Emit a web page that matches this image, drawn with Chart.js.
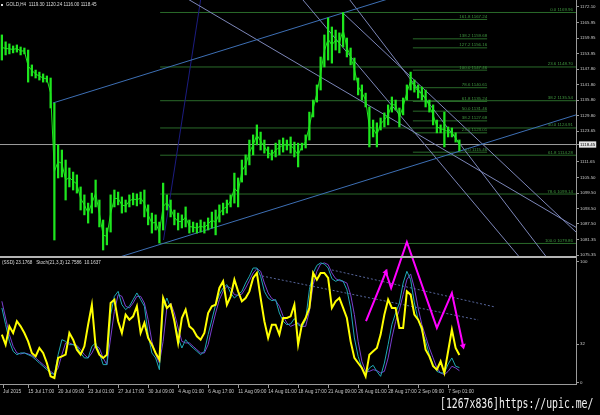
<!DOCTYPE html>
<html><head><meta charset="utf-8">
<script src="https://cdn.jsdelivr.net/npm/chart.js@4/dist/chart.umd.min.js"></script>
<style>
html,body{margin:0;padding:0;background:#000;overflow:hidden}
#wrap{position:relative;width:600px;height:415px;background:#000}
canvas{position:absolute;left:0;top:0}
#wm{position:absolute;left:440px;top:396px;font:14px 'DejaVu Sans Mono','Liberation Mono',monospace;color:#f0f0f0;white-space:nowrap;transform-origin:0 0;transform:scaleX(0.70);line-height:1}
</style></head><body>
<div id="wrap"><canvas id="c" width="600" height="415"></canvas><div id="wm">[1267x836]https://upic.me/</div></div>
<script>
// ---------- DATA ----------
const symbolTitle = 'GOLD,H4  1119.30 1120.24 1116.00 1118.45';
const stochTitle = '(SSD) 23.1768   Stoch(21,3,3) 12.7586  10.1637';
const lastClose = 1118.45;

const priceHigh = [1161.2,1158.5,1157.7,1156.9,1157.3,1156.5,1156.1,1155.3,1149.5,1147.5,
1146.7,1146.0,1145.2,1144.4,1134.6,1118.3,1116.3,1112.4,1109.3,1107.7,
1106.6,1101.9,1098.8,1095.6,1099.5,1104.6,1096.8,1089.0,1085.9,1098.8,
1100.7,1099.9,1098.0,1096.8,1098.8,1099.5,1099.2,1099.9,1100.7,1094.9,
1091.7,1091.0,1088.2,1103.4,1098.8,1096.8,1092.9,1091.7,1091.0,1094.1,
1089.0,1088.2,1087.8,1089.0,1088.2,1089.8,1092.1,1092.9,1094.9,1095.6,
1096.8,1098.8,1107.3,1105.4,1112.4,1114.4,1120.2,1122.2,1126.1,1123.3,
1120.2,1117.5,1116.3,1119.0,1120.2,1121.0,1120.2,1121.4,1119.4,1119.0,
1119.0,1122.2,1131.1,1135.8,1141.7,1152.6,1161.2,1167.8,1164.3,1163.1,
1162.0,1169.96,1160.0,1156.1,1152.2,1144.4,1141.7,1138.5,1133.1,1128.0,
1126.9,1128.8,1130.8,1133.9,1137.0,1135.8,1132.7,1136.6,1141.7,1146.7,
1143.6,1141.7,1140.9,1139.7,1135.8,1133.9,1128.0,1126.1,1131.1,1125.3,
1124.9,1123.0,1120.24];
const priceLow = [1151.4,1153.4,1153.8,1154.2,1154.5,1153.4,1153.8,1142.8,1145.2,1144.4,
1143.6,1142.8,1142.8,1132.7,1081.2,1105.4,1105.8,1096.8,1101.9,1100.7,
1099.5,1092.9,1091.0,1087.8,1091.7,1094.1,1086.3,1077.3,1079.3,1084.3,
1094.1,1094.9,1091.7,1092.1,1094.1,1094.9,1094.5,1095.3,1090.2,1087.1,
1083.9,1085.1,1080.0,1085.1,1092.9,1090.2,1087.1,1085.1,1085.9,1086.3,
1083.9,1084.3,1083.9,1084.3,1083.9,1085.1,1085.9,1083.2,1088.2,1091.0,
1091.7,1094.1,1095.6,1094.1,1103.8,1106.6,1110.5,1114.4,1118.3,1116.3,
1115.1,1113.2,1112.4,1113.6,1114.4,1115.5,1116.3,1115.1,1113.6,1109.7,
1116.3,1117.1,1120.2,1129.2,1135.0,1139.7,1148.7,1151.4,1150.2,1155.3,
1154.2,1156.5,1152.6,1149.5,1143.6,1137.8,1135.8,1133.1,1117.5,1121.4,
1117.5,1124.1,1125.3,1126.1,1131.1,1131.9,1125.3,1130.0,1135.8,1139.7,
1138.9,1136.6,1135.8,1133.1,1131.1,1126.1,1123.0,1123.0,1117.5,1121.4,
1121.4,1119.4,1116.00];

const stochYellow = [40,31.7,46.8,41.3,51,46.8,41.3,34.4,24.8,22,
28.9,24.8,16.5,5.5,4.1,20.7,22,23.4,41.3,35.8,
27.5,23.4,30.3,48.2,64.7,30.3,23.4,20.7,23.4,66.1,
68.9,51,41.3,56.5,52.3,55.1,63.4,41.3,49.6,37.2,
31.7,24.8,19.3,70.2,62,64.7,51,33.1,53.7,60.6,
46.8,44.1,38.6,35.8,41.3,57.8,63.4,64.7,78.5,84,
64.7,71.6,85.4,75.7,67.5,70.2,75.7,86.8,90.9,70.2,
51,37.2,48.2,48.2,40,53.7,53.7,55.1,64.7,31.7,
48.2,53.7,62,90.9,85.4,90.9,90.9,86.8,62,67.5,
70.2,62,53.7,34.4,20.7,16.5,12.4,5.5,23.4,26.2,
28.9,40,56.5,68.9,62,62,45.4,45.4,75.7,73,
56.5,52.3,45.4,27.5,22,13.8,11,17.9,8.3,26.2,
44.1,28.9,23.18];
const stochMain = [62,48.2,34.4,26.2,23.4,24.8,24.8,23.4,22,19.3,
16.5,13.8,11,8.3,6.9,23.4,35.8,34.4,31.7,31.7,
30.3,24.8,20.7,20.7,30.3,33.1,24.8,15.2,15.2,56.5,
71.6,75.7,64.7,60.6,63.4,68.9,74.4,68.9,63.4,40,
24.8,20.7,11,62,70.2,62,52.3,37.2,28.9,35.8,
31.7,28.9,26.2,23.4,26.2,40,52.3,64.7,73,78.5,
81.3,74.4,70.2,73,75.7,82.6,88.2,95,95,88.2,
75.7,70.2,68,68.9,57.8,51,48.2,48.8,53.2,48.2,
46,52.3,77.1,90.9,97.2,99.2,98.3,95,86.2,84,
85.4,84,77.1,62,37.2,22,12.4,6.9,12.4,14.6,
9.6,5.5,16.5,31.7,48.2,57.8,66.1,82.6,92.3,85.4,
66.1,52.3,42.7,34.4,23.4,15.2,9.6,8.3,8.3,15.7,
20.7,13.8,12.76];
const stochSignal = [67.5,53.7,40,30.3,24.8,24,24.8,24,22.9,20.7,
17.9,15.2,12.4,9.6,7.4,12.4,23.4,33.1,33.1,31.7,
31.1,27.5,23.4,20.7,24.8,31.1,28.9,20.7,15.2,37.2,
59.2,73,71.6,63.4,62,66.1,71.6,71.6,66.1,52.3,
34.4,23.4,16.5,34.4,62,66.1,57.8,45.4,34.4,33.1,
33.1,30.3,27.5,24.8,24.8,31.7,45.4,57.8,68.9,75.7,
79.9,78.5,73,72.4,73.5,78.5,84.6,90.9,94.5,92.3,
82.6,74.4,69.7,68,63.4,55.1,49.6,46.8,48.2,49.6,
46.8,46.8,59.2,81.3,92.3,98.3,99.2,97.8,90.9,86.2,
84.6,84,82.6,73,56.5,34.4,17.9,9.6,9.6,11,
10.2,8.3,9.6,20.7,37.2,50.9,60.6,73,85.4,90.1,
78.5,62,48.2,38.6,28.9,20.7,12.4,8.3,6.9,9.6,
13.8,12.4,10.16];

const timeLabels = ['Jul 2015','15 Jul 17:00','20 Jul 09:00','23 Jul 01:00','27 Jul 17:00','30 Jul 09:00','4 Aug 01:00','6 Aug 17:00','11 Aug 09:00','14 Aug 01:00','18 Aug 17:00','21 Aug 09:00','26 Aug 01:00','28 Aug 17:00','2 Sep 09:00','7 Sep 01:00'];
const timeTickPos = [0.3,7,15,23,31,39,47,55,63,71,79,87,95,103,111,119];
const priceTicks = [1172.10,1165.95,1159.95,1153.95,1147.80,1141.80,1135.80,1129.80,1123.65,1118.45,1111.65,1105.50,1099.50,1093.50,1087.50,1081.35,1075.35];
const stochTicks = [100,32,0];

// Fibonacci retracement objects
const fibALevels = [0,23.6,38.2,50,61.8,78.6,100];
const fibAPrices = [1169.96,1148.70,1135.54,1124.91,1114.28,1099.14,1079.86];
const fibAStart = 42.2;
const fibBLevels = [0,23.6,38.2,50,61.8,78.6,100,127.2,138.2,161.8];
const fibBPrices = [1115.46,1123.01,1127.68,1131.46,1135.24,1140.61,1147.46,1156.16,1159.68,1167.24];
const fibBStart = 109.6, fibBEnd = 129.4;

// trend lines (bar index, price)
const trendStartX = [13.6, 26.2, 47.5, 90.97, 80.3, 92.8, 43.1];
const trendStartP = [1134.65, 1072.2, 1177.0, 1169.76, 1174.83, 1174.83, 1081.2];
const trendEndX   = [106.2, 153.1, 153.4, 153.4, 138.2, 145.4, 53.4];
const trendEndP   = [1176.7, 1130.0, 1085.9, 1083.9, 1074.2, 1074.2, 1178.7];

// dotted lines in the oscillator window (bar index, value)
const dotStartX = [88.0, 69.4];
const dotStartV = [93.4, 88.4];
const dotEndX = [131.5, 127.0];
const dotEndV = [62.8, 52.1];

// hand-drawn magenta path in the oscillator window
const magentaX = [97.1, 102.4, 103.8, 108.0, 116.0, 120.0, 123.0];
const magentaV = [51.2, 91.7, 78.5, 116.5, 45.5, 74.4, 30.6];

// ---------- CHART ----------
const xMin = -0.5, xMax = 153.1;
const FONT = 'Liberation Sans';
Chart.defaults.font.family = FONT;

function seg(x1, y1, x2, y2, color, w, axis, order, dash) {
  return {type:'line', xAxisID:'x', yAxisID:axis, data:[{x:x1,y:y1},{x:x2,y:y2}],
    borderColor:color, borderWidth:w, pointRadius:0, borderDash:dash||[], order:order, tension:0, fill:false};
}

const barGreen = '#1ee61e';
const datasets = [];
datasets.push({type:'bar', xAxisID:'x', yAxisID:'yP',
  data: priceHigh.map((h,i)=>({x:i, y:[priceLow[i], h]})),
  backgroundColor:barGreen, borderWidth:0, barThickness:1.6, grouped:false, order:1});
// thin path joining the middle of each bar's range
datasets.push({type:'line', xAxisID:'x', yAxisID:'yP',
  data: priceHigh.map((h,i)=>({x:i, y:(h + priceLow[i]) / 2})),
  borderColor:barGreen, borderWidth:1, pointRadius:0, tension:0, order:1});

fibAPrices.forEach(p => datasets.push(seg(fibAStart, p, xMax, p, '#2a6a2a', 1, 'yP', 6)));
fibBPrices.forEach(p => datasets.push(seg(fibBStart, p, fibBEnd, p, '#2a6a2a', 1, 'yP', 6)));
datasets.push(seg(xMin, lastClose, xMax, lastClose, '#9c9c9c', 1, 'yP', 5));

const trendColors = ['#3d6fb4','#3d6fb4','#7c86b8','#7c86b8','#7c86b8','#7c86b8','#1c1c80'];
trendStartX.forEach((x,i) => datasets.push(seg(x, trendStartP[i], trendEndX[i], trendEndP[i], trendColors[i], 1, 'yP', 4)));

datasets.push({type:'line', xAxisID:'x', yAxisID:'yS', data: stochSignal.map((v,i)=>({x:i,y:v})),
  borderColor:'#7b40d0', borderWidth:1, pointRadius:0, tension:0, order:3});
datasets.push({type:'line', xAxisID:'x', yAxisID:'yS', data: stochMain.map((v,i)=>({x:i,y:v})),
  borderColor:'#1fa8b4', borderWidth:1, pointRadius:0, tension:0, order:2});
dotStartX.forEach((x,i) => datasets.push(seg(x, dotStartV[i], dotEndX[i], dotEndV[i], '#56659a', 1, 'yS', 4, [2,2])));
datasets.push({type:'line', xAxisID:'x', yAxisID:'yS', data: stochYellow.map((v,i)=>({x:i,y:v})),
  borderColor:'#ffff00', borderWidth:2, pointRadius:0, tension:0, order:1});
const arrowIdx = [1, 6];
const arrowRot = [23, 168];
datasets.push({type:'line', xAxisID:'x', yAxisID:'yS', data: magentaX.map((x,i)=>({x:x, y:magentaV[i]})),
  borderColor:'#ff00ff', backgroundColor:'#ff00ff', borderWidth:2, tension:0, clip:false, order:0,
  pointStyle:'triangle',
  pointRadius: c => arrowIdx.includes(c.dataIndex) ? 3.5 : 0,
  pointBorderWidth: 0,
  pointRotation: c => { const k = arrowIdx.indexOf(c.dataIndex); return k >= 0 ? arrowRot[k] : 0; }});

const levelText = v => (Number.isInteger(v) ? v.toFixed(1) : String(v));

const overlay = {
  id:'overlay',
  afterDatasetsDraw(chart) {
    const {ctx, scales:{x, yP}} = chart;
    ctx.save();
    ctx.font = '4.4px "' + FONT + '"';
    ctx.fillStyle = '#3f963f';
    ctx.textAlign = 'right';
    ctx.textBaseline = 'bottom';
    fibALevels.forEach((lv,i) => ctx.fillText(levelText(lv) + ' ' + fibAPrices[i].toFixed(2), x.getPixelForValue(xMax) - 3, yP.getPixelForValue(fibAPrices[i]) - 0.5));
    fibBLevels.forEach((lv,i) => ctx.fillText(levelText(lv) + ' ' + fibBPrices[i].toFixed(2), x.getPixelForValue(fibBEnd), yP.getPixelForValue(fibBPrices[i]) - 0.5));
    ctx.restore();
  },
  afterDraw(chart) {
    const {ctx, scales:{yS}, chartArea} = chart;
    ctx.save();
    ctx.fillStyle = '#b4b4b4';
    ctx.fillRect(0, yS.top - 1, chartArea.right, 2);
    ctx.font = '4.6px "' + FONT + '"';
    ctx.fillStyle = '#dcdcdc';
    ctx.textAlign = 'left';
    ctx.textBaseline = 'middle';
    ctx.fillRect(1, 4, 2, 2);
    ctx.fillText(symbolTitle, 6, 5);
    ctx.fillText(stochTitle, 2, yS.top + 6);
    ctx.restore();
  }
};

const axisGray = '#9a9a9a';
new Chart(document.getElementById('c'), {
  type:'bar',
  data:{datasets},
  plugins:[overlay],
  options:{
    responsive:false, animation:false, devicePixelRatio:1,
    layout:{padding:0, autoPadding:false},
    plugins:{legend:{display:false}, tooltip:{enabled:false}},
    scales:{
      x:{type:'linear', position:'bottom', min:xMin, max:xMax, offset:false,
        afterBuildTicks: s => { s.ticks = timeTickPos.map(v => ({value:v})); },
        afterFit: s => { s.height = 31; s.paddingLeft = 0; s.paddingRight = 0; },
        ticks:{autoSkip:false, maxRotation:0, minRotation:0, align:'start', padding:1, color:'#c8c8c8', font:{size:4.8},
          callback:(v,i) => timeLabels[i]},
        grid:{drawOnChartArea:false, drawTicks:true, tickLength:4, color:axisGray, offset:false},
        border:{color:axisGray, width:1}},
      yP:{type:'linear', position:'right', stack:'panes', stackWeight:257, weight:1,
        min:1074.57, max:1174.83,
        afterBuildTicks: s => { s.ticks = priceTicks.map(v => ({value:v})); },
        afterFit: s => { s.width = 24; s.paddingTop = 0; s.paddingBottom = 0; },
        ticks:{autoSkip:false, padding:1, font:{size:4.4},
          color: c => (c.tick && c.tick.value === lastClose) ? '#000' : '#c8c8c8',
          showLabelBackdrop: c => !!(c.tick && c.tick.value === lastClose),
          backdropColor:'#e4e4e4', backdropPadding:{top:0.5,bottom:0.5,left:1,right:1},
          callback: v => Number(v).toFixed(2)},
        grid:{drawOnChartArea:false, tickLength:3, color:axisGray},
        border:{color:axisGray, width:1}},
      yS:{type:'linear', position:'right', stack:'panes', stackWeight:127, weight:2,
        min:-0.83, max:104.1,
        afterBuildTicks: s => { s.ticks = stochTicks.map(v => ({value:v})); },
        afterFit: s => { s.width = 24; s.paddingTop = 0; s.paddingBottom = 0; },
        ticks:{autoSkip:false, padding:1, font:{size:4.4}, color:'#c8c8c8', callback: v => String(v)},
        grid:{drawOnChartArea:false, tickLength:3, color:axisGray},
        border:{color:axisGray, width:1}}
    }
  }
});
</script>
</body></html>
